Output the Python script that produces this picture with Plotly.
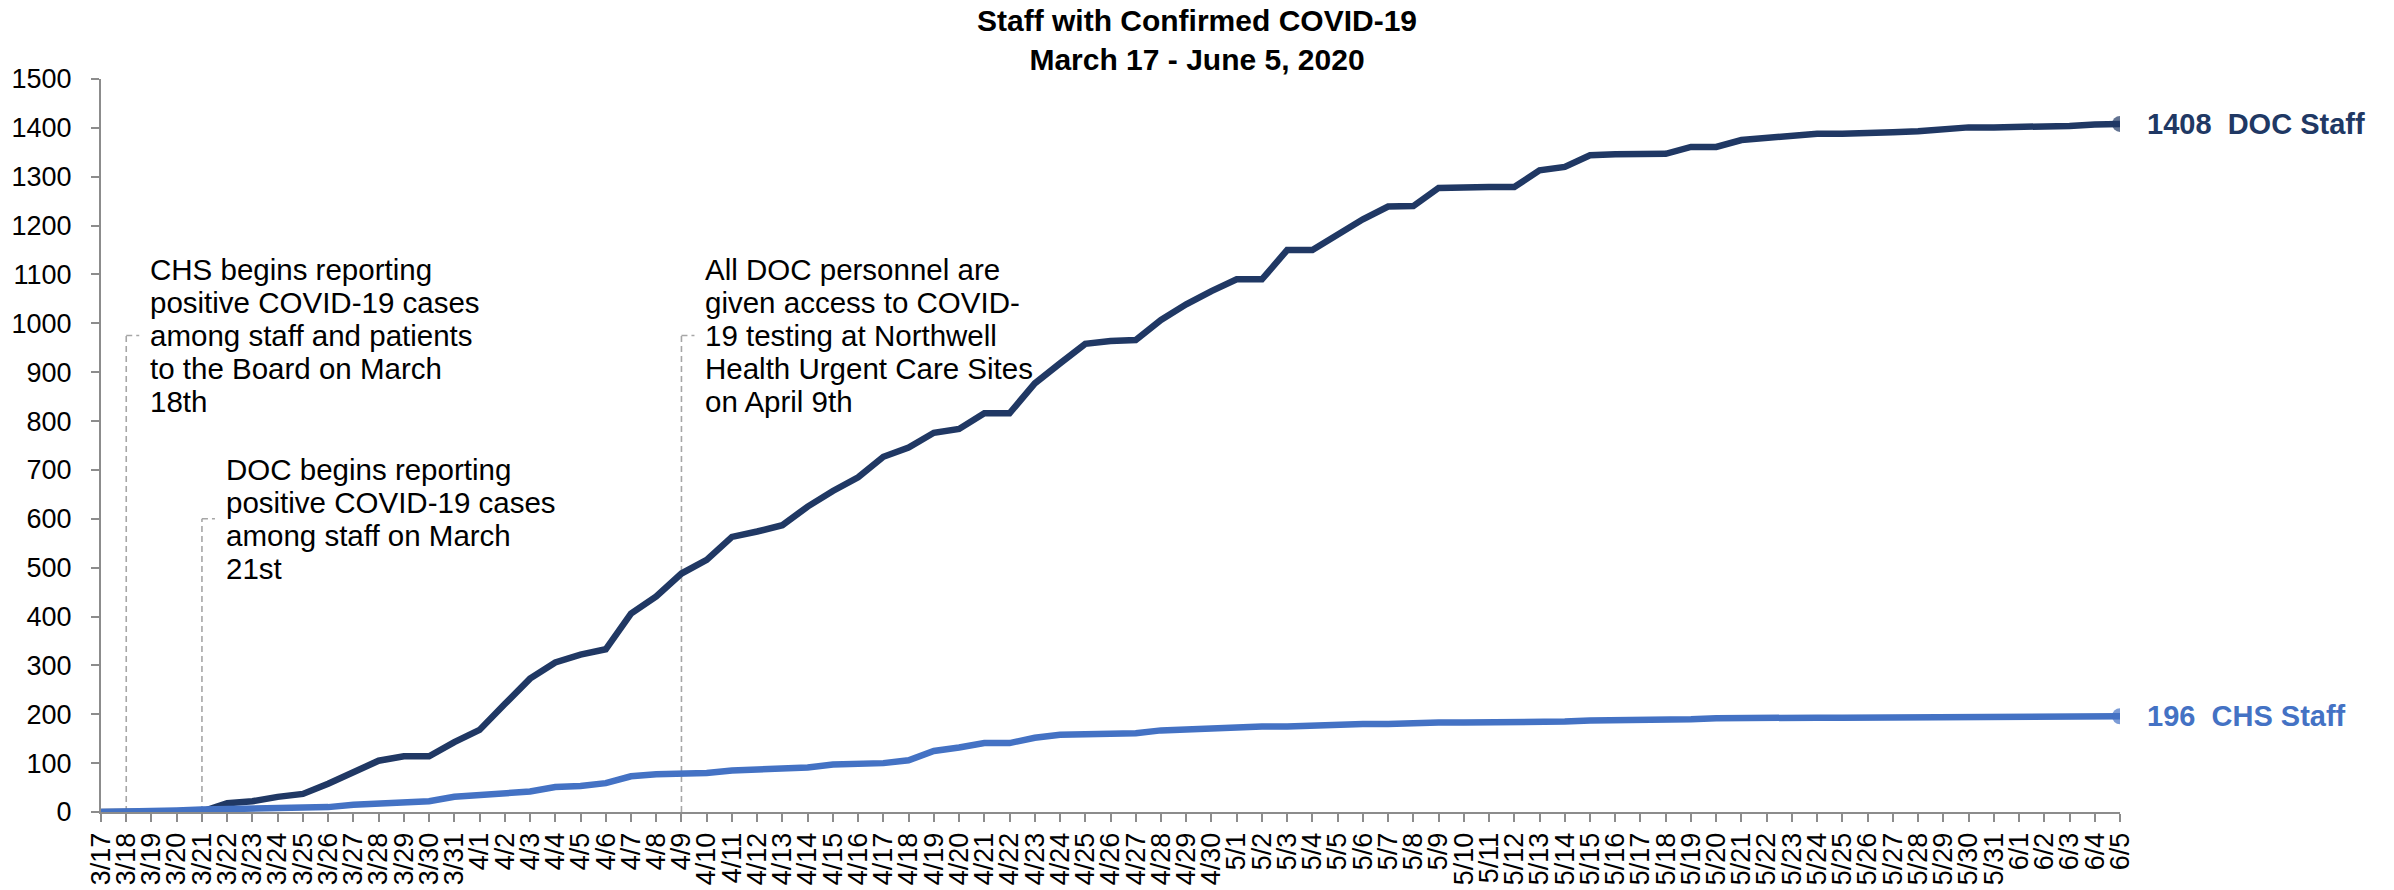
import plotly.graph_objects as go

DATES = ["3/17", "3/18", "3/19", "3/20", "3/21", "3/22", "3/23", "3/24", "3/25", "3/26", "3/27", "3/28",
         "3/29", "3/30", "3/31", "4/1", "4/2", "4/3", "4/4", "4/5", "4/6", "4/7", "4/8", "4/9", "4/10",
         "4/11", "4/12", "4/13", "4/14", "4/15", "4/16", "4/17", "4/18", "4/19", "4/20", "4/21", "4/22",
         "4/23", "4/24", "4/25", "4/26", "4/27", "4/28", "4/29", "4/30", "5/1", "5/2", "5/3", "5/4", "5/5",
         "5/6", "5/7", "5/8", "5/9", "5/10", "5/11", "5/12", "5/13", "5/14", "5/15", "5/16", "5/17", "5/18",
         "5/19", "5/20", "5/21", "5/22", "5/23", "5/24", "5/25", "5/26", "5/27", "5/28", "5/29", "5/30",
         "5/31", "6/1", "6/2", "6/3", "6/4", "6/5"]

DOC_STAFF = [0, 0, 0, 0, 1, 18, 22, 31, 37, 58, 82, 105, 114, 114, 143, 168, 221, 273, 306, 322, 333,
             406, 441, 488, 516, 563, 574, 587, 625, 657, 685, 727, 746, 776, 784, 816, 816, 877, 918,
             958, 964, 966, 1007, 1039, 1066, 1090, 1090, 1150, 1150, 1181, 1213, 1239, 1240, 1277, 1279,
             1279, 1279, 1313, 1320, 1344, 1346, 1347, 1347, 1361, 1361, 1375, 1380, 1385, 1388, 1388,
             1388, 1391, 1393, 1398, 1401, 1401, 1401, 1404, 1404, 1407, 1408]

CHS_STAFF = [0, 0, 3, 3, 5, 6, 7, 8, 9, 10, 15, 17, 19, 22, 31, 35, 37, 42, 51, 53, 59, 73, 77, 78, 80,
             85, 87, 89, 91, 97, 97, 100, 106, 125, 132, 141, 141, 152, 158, 160, 160, 161, 167, 169, 172,
             175, 175, 175, 177, 180, 180, 180, 183, 183, 183, 183, 183, 184, 185, 187, 187, 187, 187, 190,
             192, 193, 193, 193, 193, 193, 193, 194, 194, 195, 196, 196, 196, 196, 196, 196, 196]

EVENT_DATES = ["3/18", "3/21", "4/9"]
EVENT_TEXT = [
    ["CHS begins reporting", "positive COVID-19 cases", "among staff and patients", "to the Board on March", "18th"],
    ["DOC begins reporting", "positive COVID-19 cases", "among staff on March", "21st"],
    ["All DOC personnel are", "given access to COVID-", "19 testing at Northwell", "Health Urgent Care Sites", "on April 9th"],
]
EVENT_LEVEL = [975, 600, 975]

NAVY, BLUE, GREY = "#203864", "#4472C4", "#8C8C8C"
FONT = "Liberation Sans, Arial, sans-serif"

fig = go.Figure()
for name, vals, color in [("DOC Staff", DOC_STAFF, NAVY), ("CHS Staff", CHS_STAFF, BLUE)]:
    n = len(vals)
    fig.add_trace(go.Scatter(x=DATES, y=vals, name=name, mode="lines+markers",
                             line={"color": color, "width": 6.5},
                             marker={"size": [0] * (n - 1) + [16], "color": color, "line": {"width": 0}},
                             showlegend=False))
    fig.add_annotation(x=n - 1, y=vals[-1], text=f"{vals[-1]}\u00a0\u00a0{name}", showarrow=False,
                       xanchor="left", yanchor="middle", xshift=25,
                       font={"family": FONT, "size": 29, "color": color, "weight": "bold"})

# event markers: dashed leader up from the axis, small elbow, wrapped text
for date, lines, level in zip(EVENT_DATES, EVENT_TEXT, EVENT_LEVEL):
    i = DATES.index(date)
    dash = {"color": "#A6A6A6", "width": 1.6, "dash": "6px,4px"}
    fig.add_shape(type="line", x0=i, x1=i, y0=0, y1=level, line=dash, layer="below")
    fig.add_shape(type="line", xsizemode="pixel", xanchor=i, x0=0, x1=13, y0=level, y1=level, line=dash)
    mid = (len(lines) - 1) / 2
    for k, txt in enumerate(lines):
        fig.add_annotation(x=i, y=level, text=txt, showarrow=False, xanchor="left", yanchor="middle",
                           xshift=22, yshift=(mid - k) * 33,
                           font={"family": FONT, "size": 29.5, "color": "#000000"})

fig.update_layout(
    width=2394, height=890, paper_bgcolor="white", plot_bgcolor="white",
    margin={"l": 101, "r": 274, "t": 79, "b": 78},
    font={"family": FONT, "color": "#000000"},
    title={"text": "Staff with Confirmed COVID-19<br>March 17 - June 5, 2020", "x": 0.5, "xanchor": "center",
           "y": 0.965, "yanchor": "top", "yref": "container",
           "font": {"family": FONT, "size": 30, "color": "#000000", "weight": "bold"}},
)
fig.update_xaxes(type="category", range=[0, len(DATES) - 1], tickmode="linear", dtick=1, tickangle=-90,
                 showline=True, linecolor=GREY, linewidth=2, ticks="outside", ticklen=8, tickcolor=GREY,
                 tickwidth=2, showgrid=False, zeroline=False, automargin=False,
                 tickfont={"family": FONT, "size": 27, "color": "#000000"})
fig.update_yaxes(range=[0, 1500], dtick=100, showline=True, linecolor=GREY, linewidth=2, ticks="outside",
                 ticklen=8, tickcolor=GREY, tickwidth=2, showgrid=False, zeroline=False, automargin=False,
                 ticklabelstandoff=14, tickfont={"family": FONT, "size": 27, "color": "#000000"})

fig.write_html("out.html", config={"displayModeBar": False},
               post_script="document.body.style.margin = '0';")
